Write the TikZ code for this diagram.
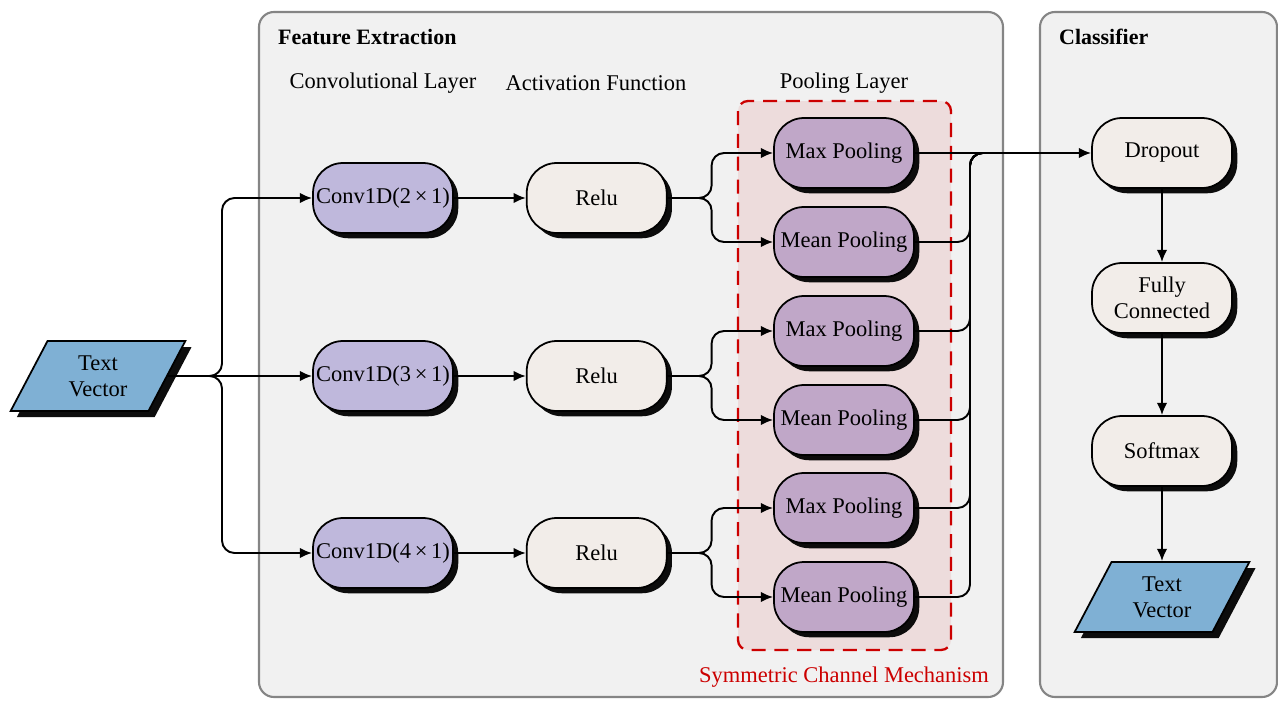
\documentclass[tikz,border=0pt]{standalone}
\usepackage{fontspec}
\setmainfont{Liberation Serif}
\usepackage{xcolor}
\usetikzlibrary{arrows.meta,positioning,shapes.geometric,shadows}

\definecolor{panelgray}{HTML}{F1F1F1}
\definecolor{panelline}{HTML}{858585}
\definecolor{convfill}{HTML}{BFB8DC}
\definecolor{relufill}{HTML}{F2EDE9}
\definecolor{poolfill}{HTML}{C0A7C8}
\definecolor{vecfill}{HTML}{7FB0D4}
\definecolor{schred}{HTML}{CC0000}
\definecolor{schpink}{HTML}{EDDCDC}

\begin{document}
\begin{tikzpicture}[
  x=0.02cm, y=-0.02cm,
  font=\fontsize{12.8}{14.8}\selectfont,
  panel/.style={draw=panelline, line width=1.2pt, fill=panelgray, rounded corners=0.3cm},
  block/.style={rectangle, rounded corners=0.6cm, draw=black, line width=1pt, align=center, minimum width=2.8cm, minimum height=1.4cm, inner sep=1pt,
    drop shadow={shadow xshift=3pt, shadow yshift=-3pt, fill=black, opacity=0.95}},
  conv/.style={block, fill=convfill},
  relu/.style={block, fill=relufill},
  pool/.style={block, fill=poolfill},
  vec/.style={trapezium, trapezium left angle=63, trapezium right angle=117, trapezium stretches=true, draw=black, line width=1pt, fill=vecfill, align=center,
    minimum width=3.5cm, minimum height=1.4cm, inner sep=1pt,
    drop shadow={shadow xshift=3.5pt, shadow yshift=-3.5pt, fill=black, opacity=0.95}},
  schbox/.style={draw=schred, fill=schpink, line width=1.3pt, dash pattern=on 8pt off 5pt, rounded corners=0.2cm},
  arrow/.style={-{Latex[length=7pt,width=6pt]}, line width=1.1pt},
  link/.style={line width=1.1pt, rounded corners=0.25cm}
]
\useasboundingbox (0,0) rectangle (1278,700);

\draw[panel] (259,12) rectangle (1003,697);
\draw[panel] (1040,12) rectangle (1277,697);
\draw[schbox] (738,101) rectangle (951,650);

\node[anchor=west, font=\fontsize{12.5}{14.5}\selectfont\bfseries] (fe) at (272,37) {Feature Extraction};
\node[anchor=west, font=\fontsize{12.5}{14.5}\selectfont\bfseries] (cl) at (1053,37) {Classifier};
\node (hconv) at (383,83) {Convolutional Layer};
\node (hact) at (596,83) {Activation Function};
\node (hpool) at (844,83) {Pooling Layer};
\node[text=schred] (scm) at (844,677) {Symmetric Channel Mechanism};

\node[vec] (in) at (98,376) {Text\\Vector};

\node[conv] (c2) at (383,198) {Conv1D(2\,×\,1)};
\node[conv] (c3) at (383,376) {Conv1D(3\,×\,1)};
\node[conv] (c4) at (383,553) {Conv1D(4\,×\,1)};

\node[relu, right=1.44cm of c2] (r2) {Relu};
\node[relu, right=1.44cm of c3] (r3) {Relu};
\node[relu, right=1.44cm of c4] (r4) {Relu};

\node[pool] (mx2) at (844,153) {Max Pooling};
\node[pool] (mn2) at (844,242) {Mean Pooling};
\node[pool] (mx3) at (844,331) {Max Pooling};
\node[pool] (mn3) at (844,420) {Mean Pooling};
\node[pool] (mx4) at (844,508) {Max Pooling};
\node[pool] (mn4) at (844,597) {Mean Pooling};

\node[relu] (dp) at (1162,153) {Dropout};
\node[relu] (fc) at (1162,298) {Fully\\Connected};
\node[relu] (sm) at (1162,451) {Softmax};
\node[vec] (out) at (1162,597) {Text\\Vector};

\coordinate (split) at (222,376);
\coordinate (join) at (970,153);

\draw[arrow, link] (in.east) -- (split) |- (c2.west);
\draw[arrow] (in.east) -- (c3.west);
\draw[arrow, link] (in.east) -- (split) |- (c4.west);

\draw[arrow] (c2) -- (r2);
\draw[arrow] (c3) -- (r3);
\draw[arrow] (c4) -- (r4);

\draw[arrow, link] (r2.east) -- ++(44,0) |- (mx2.west);
\draw[arrow, link] (r2.east) -- ++(44,0) |- (mn2.west);
\draw[arrow, link] (r3.east) -- ++(44,0) |- (mx3.west);
\draw[arrow, link] (r3.east) -- ++(44,0) |- (mn3.west);
\draw[arrow, link] (r4.east) -- ++(44,0) |- (mx4.west);
\draw[arrow, link] (r4.east) -- ++(44,0) |- (mn4.west);

\draw[arrow] (mx2.east) -- (dp.west);
\draw[link] (mn2.east) -| (join) -- ++(20,0);
\draw[link] (mx3.east) -| (join) -- ++(20,0);
\draw[link] (mn3.east) -| (join) -- ++(20,0);
\draw[link] (mx4.east) -| (join) -- ++(20,0);
\draw[link] (mn4.east) -| (join) -- ++(20,0);

\draw[arrow] (dp) -- (fc);
\draw[arrow] (fc) -- (sm);
\draw[arrow] (sm) -- (out);
\end{tikzpicture}
\end{document}
